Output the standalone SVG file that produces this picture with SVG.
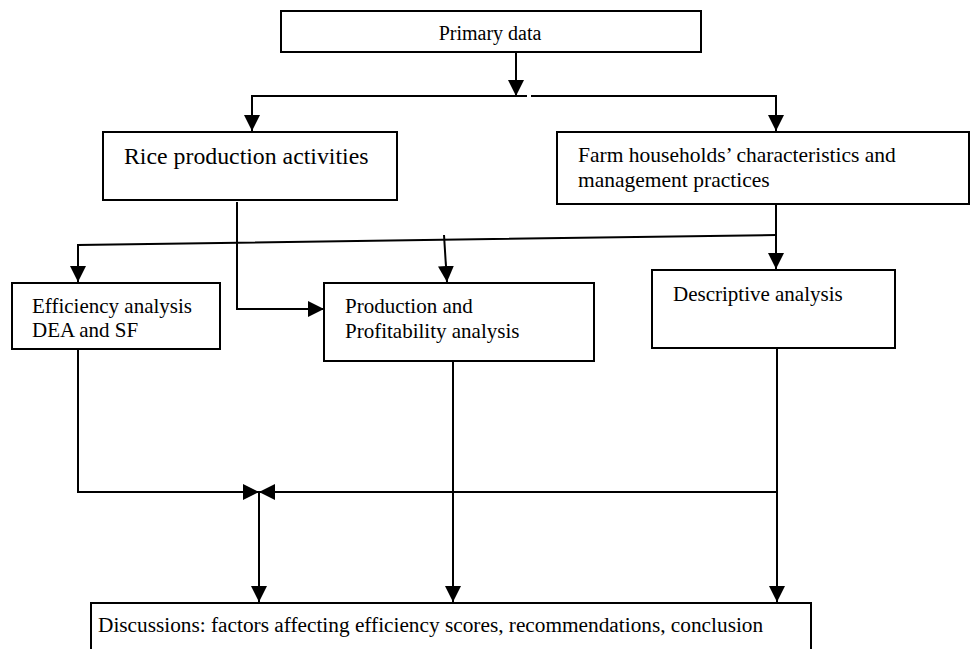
<svg xmlns="http://www.w3.org/2000/svg" width="970" height="649" viewBox="0 0 970 649">
<style>
.box{fill:#fff;stroke:#000;stroke-width:2}
.arr{fill:none;stroke:#000;stroke-width:2;marker-end:url(#ah)}
.t{font-family:'Liberation Serif','DejaVu Serif',serif;fill:#000;font-size:21px}
</style>
<defs>
<marker id="ah" markerUnits="userSpaceOnUse" markerWidth="16" markerHeight="16" viewBox="0 0 16 16" refX="16" refY="8" orient="auto">
<path d="M0,0 L16,8 L0,16 z" fill="#000"/>
</marker>
</defs>
<rect width="970" height="649" fill="#fff"/>
<g id="primary">
<rect class="box" x="281" y="11" width="420" height="41"/>
<text class="t" x="490" y="40" text-anchor="middle" style="font-size:20px">Primary data</text>
</g>
<g id="rice">
<rect class="box" x="103" y="132" width="294" height="68"/>
<text class="t" x="124" y="164" style="font-size:23.8px">Rice production activities</text>
</g>
<g id="farm">
<rect class="box" x="557" y="132" width="412" height="72"/>
<text class="t" x="578" y="162" style="font-size:21.5px">Farm households’ characteristics and</text>
<text class="t" x="578" y="187" style="font-size:21.5px">management practices</text>
</g>
<g id="efficiency">
<rect class="box" x="12" y="283" width="208" height="66"/>
<text class="t" x="32" y="313">Efficiency analysis</text>
<text class="t" x="32" y="337">DEA and SF</text>
</g>
<g id="production">
<rect class="box" x="324" y="283" width="270" height="78"/>
<text class="t" x="345" y="313">Production and</text>
<text class="t" x="345" y="338">Profitability analysis</text>
</g>
<g id="descriptive">
<rect class="box" x="652" y="270" width="243" height="78"/>
<text class="t" x="673" y="301">Descriptive analysis</text>
</g>
<g id="discussions">
<rect class="box" x="91" y="603" width="720" height="60"/>
<text class="t" x="98" y="632" style="font-size:21.3px">Discussions: factors affecting efficiency scores, recommendations, conclusion</text>
</g>
<g id="connectors">
<path class="arr" d="M516,52 V96"/>
<path class="arr" d="M527,96 H252 V131"/>
<path class="arr" d="M531,96 H776 V131"/>
<path class="arr" d="M237,202 V309 H324"/>
<path class="arr" d="M776,204 V269"/>
<path class="arr" d="M776,235 L78,245 V282"/>
<path class="arr" d="M444,235 L447,282"/>
<path class="arr" d="M78,349 V492 H259"/>
<path class="arr" d="M777,492 H259"/>
<path class="arr" d="M259,492 V602"/>
<path class="arr" d="M453,361 V602"/>
<path class="arr" d="M777,348 V602"/>
</g>
</svg>
